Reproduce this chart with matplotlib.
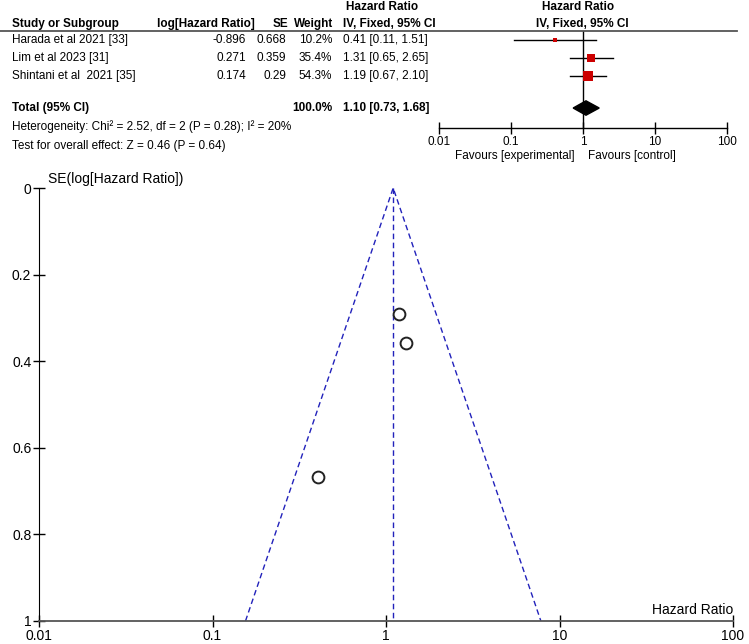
import numpy as np
import matplotlib.pyplot as plt

plt.rcParams['font.family'] = ['Liberation Sans', 'DejaVu Sans']

# Study data
studies = ['Harada et al 2021 [33]', 'Lim et al 2023 [31]', 'Shintani et al  2021 [35]']
log_hr = [-0.896, 0.271, 0.174]
se = [0.668, 0.359, 0.29]
weights = [10.2, 35.4, 54.3]
hr = [0.41, 1.31, 1.19]
ci_low = [0.11, 0.65, 0.67]
ci_high = [1.51, 2.65, 2.10]
total_hr, total_low, total_high = 1.10, 0.73, 1.68
heterogeneity = 'Heterogeneity: Chi² = 2.52, df = 2 (P = 0.28); I² = 20%'
overall = 'Test for overall effect: Z = 0.46 (P = 0.64)'
x_ticks = [0.01, 0.1, 1, 10, 100]
x_tick_labels = ['0.01', '0.1', '1', '10', '100']
y_ticks = [0, 0.2, 0.4, 0.6, 0.8, 1]
y_tick_labels = ['0', '0.2', '0.4', '0.6', '0.8', '1']

W, H = 749, 644
fig = plt.figure(figsize=(W / 100, H / 100), dpi=100)


def px(x, y):
    return x / W, 1 - y / H


def ftext(x, y, s, **kw):
    fig.text(*px(x, y), s, va='center', **kw)


fs = 8.5
# table header
ftext(346, 7, 'Hazard Ratio', ha='left', fontsize=fs, fontweight='bold')
ftext(578, 7, 'Hazard Ratio', ha='center', fontsize=fs, fontweight='bold')
ftext(12, 24, 'Study or Subgroup', ha='left', fontsize=fs, fontweight='bold')
ftext(255, 24, 'log[Hazard Ratio]', ha='right', fontsize=fs, fontweight='bold')
ftext(288, 24, 'SE', ha='right', fontsize=fs, fontweight='bold')
ftext(333, 24, 'Weight', ha='right', fontsize=fs, fontweight='bold')
ftext(343, 24, 'IV, Fixed, 95% CI', ha='left', fontsize=fs, fontweight='bold')
ftext(582, 24, 'IV, Fixed, 95% CI', ha='center', fontsize=fs, fontweight='bold')
fig.add_artist(plt.Line2D([0, 737 / W], [1 - 31 / H] * 2, color='#555555', lw=1.3,
                          transform=fig.transFigure))

row_y = [40, 58, 76]
for i, name in enumerate(studies):
    y = row_y[i]
    ftext(12, y, name, ha='left', fontsize=fs)
    ftext(246, y, f'{log_hr[i]:g}', ha='right', fontsize=fs)
    ftext(286, y, f'{se[i]:g}', ha='right', fontsize=fs)
    ftext(332, y, f'{weights[i]:.1f}%', ha='right', fontsize=fs)
    ftext(343, y, f'{hr[i]:.2f} [{ci_low[i]:.2f}, {ci_high[i]:.2f}]', ha='left', fontsize=fs)

ftext(12, 108, 'Total (95% CI)', ha='left', fontsize=fs, fontweight='bold')
ftext(332, 108, '100.0%', ha='right', fontsize=fs, fontweight='bold')
ftext(343, 108, f'{total_hr:.2f} [{total_low:.2f}, {total_high:.2f}]', ha='left',
      fontsize=fs, fontweight='bold')
ftext(12, 127, heterogeneity, ha='left', fontsize=fs)
ftext(12, 146, overall, ha='left', fontsize=fs)

# forest plot
fx0, fx1, fy0, fy1 = 439, 727, 31, 128
fax = fig.add_axes([fx0 / W, 1 - fy1 / H, (fx1 - fx0) / W, (fy1 - fy0) / H])
fax.set_xscale('log')
fax.set_xlim(0.01, 100)
rows = [0, 1, 2]
total_row = 3.78
fax.set_ylim(4.89, -0.5)
fax.axvline(1, color='black', lw=1, zorder=1)
for i in rows:
    fax.plot([ci_low[i], ci_high[i]], [i, i], color='black', lw=1, zorder=2)
    fax.plot(hr[i], i, marker='s', color='#cc0000', ms=np.sqrt(weights[i]) * 1.05,
             mec='#cc0000', mew=0, zorder=3)
dx = [total_low, total_hr, total_high, total_hr, total_low]
dy = [total_row, total_row - 0.4, total_row, total_row + 0.4, total_row]
fax.fill(dx, dy, color='black', zorder=3)
for s in ['top', 'left', 'right']:
    fax.spines[s].set_visible(False)
fax.spines['bottom'].set_linewidth(1)
fax.set_yticks([])
fax.set_xticks(x_ticks)
fax.set_xticklabels(x_tick_labels, fontsize=fs)
fax.xaxis.set_minor_locator(plt.NullLocator())
fax.tick_params(axis='x', direction='inout', length=8, width=1, pad=2)
fax.patch.set_visible(False)
ftext(575, 156, 'Favours [experimental]', ha='right', fontsize=fs)
ftext(588, 156, 'Favours [control]', ha='left', fontsize=fs)

# funnel plot
ax = fig.add_axes([39 / W, 1 - 621 / H, (733 - 39) / W, (621 - 188) / H])
ax.set_xscale('log')
ax.set_xlim(0.01, 100)
ax.set_ylim(1, 0)
se_max = 1
ax.plot([total_hr * np.exp(-1.96 * se_max), total_hr, total_hr * np.exp(1.96 * se_max)],
        [se_max, 0, se_max], color='#2222bb', ls=(0, (4, 2.5)), lw=1)
ax.plot([total_hr, total_hr], [0, se_max], color='#2222bb', ls=(0, (4, 2.5)), lw=1)
ax.plot(np.exp(log_hr), se, 'o', mfc='white', mec='#222222', ms=8.5, mew=1.4)
for s in ['top', 'right']:
    ax.spines[s].set_visible(False)
ax.spines['left'].set_color('black')
ax.spines['bottom'].set_color('#555555')
ax.spines['bottom'].set_linewidth(1.3)
ax.set_xticks(x_ticks)
ax.set_xticklabels(x_tick_labels, fontsize=10)
ax.xaxis.set_minor_locator(plt.NullLocator())
ax.set_yticks(y_ticks)
ax.set_yticklabels(y_tick_labels, fontsize=10)
ax.tick_params(direction='inout', length=9, width=1, pad=1)
ftext(48, 179, 'SE(log[Hazard Ratio])', ha='left', fontsize=10)
ftext(733, 610, 'Hazard Ratio', ha='right', fontsize=10)

fig.savefig('out.png', dpi=100)
